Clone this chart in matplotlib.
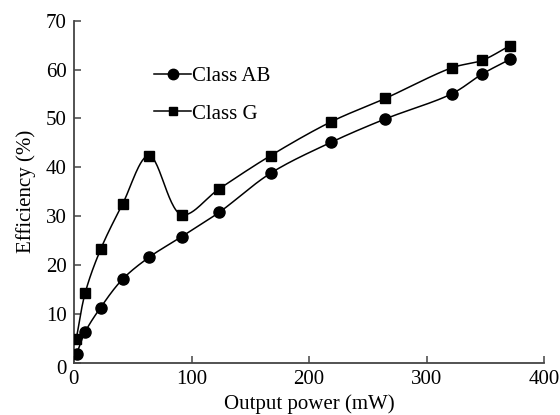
import numpy as np
import matplotlib
matplotlib.use("Agg")
import matplotlib.pyplot as plt
import matplotlib.transforms as mtransforms
from matplotlib.lines import Line2D

plt.rcParams['font.family'] = ['Liberation Serif', 'DejaVu Serif']
plt.rcParams['mathtext.fontset'] = 'stix'

# Data
ab_power = [2.3, 9.6, 22.7, 41.4, 64.0, 91.6, 123.6, 167.3, 218.5, 264.7, 321.7, 347.2, 370.7]
ab_eff = [1.8, 6.3, 11.3, 17.1, 21.6, 25.8, 30.8, 38.8, 45.1, 49.9, 55.1, 59.1, 62.1]
g_power = [2.0, 9.6, 22.7, 41.4, 63.8, 91.6, 123.6, 167.3, 218.5, 264.7, 321.7, 347.2, 370.7]
g_eff = [4.9, 14.3, 23.2, 32.5, 42.4, 30.3, 35.6, 42.4, 49.3, 54.1, 60.4, 61.9, 64.9]
labels = ["Class AB", "Class G"]
x_ticks = [0, 100, 200, 300, 400]
y_ticks = [0, 10, 20, 30, 40, 50, 60, 70]


def smooth(xs, ys, ax, n=30, alpha=0.5):
    # centripetal Catmull-Rom through the points, computed in display space
    pts = ax.transData.transform(np.column_stack([xs, ys]))
    P = np.vstack([2 * pts[0] - pts[1], pts, 2 * pts[-1] - pts[-2]])
    out = []
    for i in range(1, len(P) - 2):
        p0, p1, p2, p3 = P[i - 1], P[i], P[i + 1], P[i + 2]
        t0 = 0.0
        t1 = t0 + np.linalg.norm(p1 - p0) ** alpha
        t2 = t1 + np.linalg.norm(p2 - p1) ** alpha
        t3 = t2 + np.linalg.norm(p3 - p2) ** alpha
        t = np.linspace(t1, t2, n)[:, None]
        A1 = (t1 - t) / (t1 - t0) * p0 + (t - t0) / (t1 - t0) * p1
        A2 = (t2 - t) / (t2 - t1) * p1 + (t - t1) / (t2 - t1) * p2
        A3 = (t3 - t) / (t3 - t2) * p2 + (t - t2) / (t3 - t2) * p3
        B1 = (t2 - t) / (t2 - t0) * A1 + (t - t0) / (t2 - t0) * A2
        B2 = (t3 - t) / (t3 - t1) * A2 + (t - t1) / (t3 - t1) * A3
        C = (t2 - t) / (t2 - t1) * B1 + (t - t1) / (t2 - t1) * B2
        out.append(C)
    out = np.vstack(out)
    d = ax.transData.inverted().transform(out)
    return d[:, 0], d[:, 1]


fig = plt.figure(figsize=(5.6, 4.15), dpi=100)
ax = fig.add_axes([0.132, 0.126, 0.840, 0.824])
ax.set_xlim(0, 400)
ax.set_ylim(0, 70)

lw = 1.1
for xs, ys, m, ms in [(ab_power, ab_eff, 'o', 8.0), (g_power, g_eff, 's', 6.8)]:
    sx, sy = smooth(xs, ys, ax)
    ax.plot(sx, sy, color='black', lw=lw, zorder=2)
    ax.plot(xs, ys, linestyle='none', marker=m, ms=ms, color='black', zorder=3)

for s in ['top', 'right']:
    ax.spines[s].set_visible(False)
for s in ['left', 'bottom']:
    ax.spines[s].set_color('#444444')
    ax.spines[s].set_linewidth(1.3)

ax.set_xticks(x_ticks)
ax.set_yticks(y_ticks)
ax.tick_params(direction='in', length=5, width=1.1, color='#444444', labelsize=15)
ax.tick_params(axis='y', pad=5)
ax.tick_params(axis='x', pad=5)
ax.set_xlabel("Output power (mW)", fontsize=15, labelpad=4)
ax.set_ylabel("Efficiency (%)", fontsize=15, labelpad=7)

# the y "0" label sits slightly below the x axis in the reference
ylab0 = ax.get_yticklabels()[0]
ylab0.set_transform(ylab0.get_transform() +
                    mtransforms.ScaledTranslation(0, -4 / 100, fig.dpi_scale_trans))

handles = [Line2D([], [], color='black', lw=lw, marker='o', ms=7.5),
           Line2D([], [], color='black', lw=lw, marker='s', ms=6.2)]
ax.legend(handles, labels, loc='upper left', bbox_to_anchor=(0.17, 0.865),
          frameon=False, fontsize=15, handlelength=1.8, handletextpad=0.05,
          borderpad=0, borderaxespad=0, labelspacing=0.85)

fig.savefig("out.png", dpi=100)
